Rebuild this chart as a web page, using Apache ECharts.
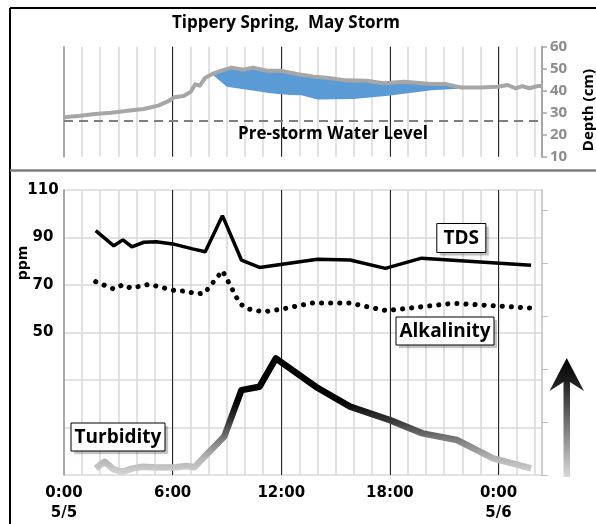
<!DOCTYPE html>
<html>
<head>
<meta charset="utf-8">
<script src="https://cdn.jsdelivr.net/npm/echarts@6/dist/echarts.min.js"></script>
<style>
  html, body { margin: 0; padding: 0; background: #fff; }
  #chart { width: 596px; height: 524px; }
</style>
</head>
<body>
<div id="chart"></div>
<script>
// Hours are counted from 0:00 on 5/5.

// Spring depth (cm), gauge record
const depthCm = [
  [0, 27.9], [0.9, 28.6], [1.7, 29.4], [2.6, 30.0], [3.5, 30.9], [4.4, 31.7],
  [5.2, 33.2], [5.7, 35.0], [6.1, 37.0], [6.6, 37.6], [7.0, 39.5], [7.25, 42.9],
  [7.5, 42.3], [7.8, 45.9], [8.2, 47.6], [8.65, 49.0], [9.25, 50.5], [9.9, 49.5],
  [10.45, 50.5], [11.2, 49.1], [11.95, 49.1], [12.85, 47.6], [13.8, 46.4],
  [14.5, 45.9], [15.6, 44.7], [16.7, 44.5], [17.65, 43.4], [18.8, 44.1],
  [20.25, 43.0], [21.1, 43.0], [21.9, 41.5], [23.0, 41.5], [23.95, 41.8],
  [24.5, 42.6], [24.95, 41.1], [25.3, 42.1], [25.7, 41.1], [26.15, 42.1], [26.4, 42.1]
];

// Lower edge of the shaded storm-water band (cm)
const bandLowerCm = [
  [8.17, 47.6], [8.6, 44.5], [9.0, 41.8], [9.55, 41.1], [10.5, 40.0], [11.4, 38.8],
  [12.5, 38.0], [13.1, 37.9], [14.0, 36.0], [16.0, 36.2], [17.9, 37.7],
  [20.3, 40.2], [23.1, 41.5]
];

// Water level before the storm (cm)
const preStormLevel = 26.2;

// Total dissolved solids (ppm)
const tdsPpm = [
  [1.75, 92.9], [2.75, 86.5], [3.25, 89.0], [3.75, 86.1], [4.4, 88.0], [5.1, 88.2],
  [6.0, 87.3], [7.1, 85.2], [7.8, 84.0], [8.75, 99.2], [9.8, 80.5], [10.8, 77.4],
  [14.0, 80.8], [15.8, 80.5], [17.75, 77.0], [19.75, 81.3], [25.8, 78.3]
];

// Alkalinity (ppm)
const alkalinityPpm = [
  [1.75, 71.4], [2.75, 68.3], [3.25, 70.1], [3.7, 68.7], [4.7, 70.3], [5.7, 68.4],
  [6.25, 67.4], [6.75, 67.5], [7.25, 66.3], [7.75, 66.5], [8.75, 76.0], [9.7, 62.3],
  [10.1, 60.0], [11.0, 58.7], [12.0, 59.8], [13.7, 62.4], [15.75, 62.4],
  [17.8, 59.2], [21.5, 62.3], [25.8, 60.3]
];

// Turbidity (relative units, right-hand scale)
const turbidity = [
  [1.75, 2.5], [2.25, 5.0], [2.75, 2.1], [3.25, 1.3], [3.8, 2.5], [4.35, 3.1],
  [5.1, 2.8], [6.2, 2.9], [6.75, 3.4], [7.2, 2.9], [7.85, 7.5], [8.85, 14.5],
  [9.8, 32.0], [10.8, 33.3], [11.7, 44.0], [13.9, 33.3], [15.8, 25.8], [18.0, 20.7],
  [19.8, 15.7], [21.7, 13.2], [23.7, 6.3], [25.8, 2.5]
];

// Axis ticks and labels
const timeTickHours = [0, 6, 12, 18, 24];
const timeTickLabels = ['0:00\n5/5', '6:00', '12:00', '18:00', '0:00\n5/6'];
const depthTicks = [10, 20, 30, 40, 50, 60];
const ppmGridValues = [-10, 10, 30, 50, 70, 90, 110];
const ppmLabelValues = [50, 70, 90, 110];
const turbidityTicks = [0, 20, 40, 60, 80, 100];

const hourMax = 26.4;

const chart = echarts.init(document.getElementById('chart'), null, { renderer: 'canvas' });

const minorX = (grid) => ({
  type: 'value', gridIndex: grid, position: 'bottom', min: 0, max: hourMax, interval: 1,
  axisLine: { show: false, onZero: false }, axisTick: { show: false }, axisLabel: { show: false },
  splitLine: { show: true, showMinLine: false, showMaxLine: false, lineStyle: { color: '#d9d9d9', width: 1.5 } }
});

const majorX = (grid, withLabels) => ({
  type: 'value', gridIndex: grid, position: 'bottom', min: 0, max: hourMax,
  axisLine: { show: false, onZero: false },
  axisTick: { show: false, customValues: timeTickHours.slice(1) },
  axisLabel: withLabels ? {
    show: true, customValues: timeTickHours, margin: 8,
    fontFamily: 'DejaVu Sans', fontWeight: 'bold', fontSize: 15, color: '#000', lineHeight: 20,
    formatter: (v) => timeTickLabels[timeTickHours.indexOf(v)]
  } : { show: false },
  splitLine: { show: true, lineStyle: { color: '#262626', width: 1 } }
});

const bandFill = {
  type: 'custom',
  xAxisIndex: 0, yAxisIndex: 1,
  data: [0],
  z: 1,
  silent: true,
  renderItem: function (params, api) {
    const lo = bandLowerCm[0][0];
    const hi = bandLowerCm[bandLowerCm.length - 1][0];
    const upper = depthCm.filter(p => p[0] >= lo && p[0] <= hi);
    const pts = upper.concat(bandLowerCm.slice().reverse()).map(p => api.coord(p));
    return { type: 'polygon', shape: { points: pts }, style: { fill: '#5b9bd5' } };
  }
};

// Boxed series label with a soft drop shadow
function labelBox(text, cx, cy, w, h) {
  return {
    type: 'group', x: cx, y: cy,
    children: [
      { type: 'rect', z: 50, z2: 0, shape: { x: -w / 2 + 3, y: -h / 2 + 3, width: w, height: h },
        style: { fill: 'rgba(0,0,0,0.2)', shadowBlur: 4, shadowColor: 'rgba(0,0,0,0.3)' } },
      { type: 'rect', z: 50, z2: 1, shape: { x: -w / 2, y: -h / 2, width: w, height: h },
        style: { fill: '#fff', stroke: '#000', lineWidth: 1 } },
      { type: 'text', z: 50, z2: 2, x: 0, y: 1,
        style: { text: text, fill: '#000', font: 'bold 19px "Open Sans"',
          align: 'center', verticalAlign: 'middle' } }
    ]
  };
}

const option = {
  animation: false,
  backgroundColor: '#fff',
  grid: [
    { left: 64, right: 54, top: 46.7, height: 110 },
    { left: 64, right: 54, top: 190, height: 285 }
  ],
  xAxis: [minorX(0), majorX(0, false), minorX(1), majorX(1, true)],
  yAxis: [
    { type: 'value', gridIndex: 0, position: 'left', min: 10, max: 60,
      axisLine: { show: true, onZero: false, lineStyle: { color: '#8c8c8c', width: 1.5 } },
      axisTick: { show: false }, axisLabel: { show: false }, splitLine: { show: false } },
    { type: 'value', gridIndex: 0, position: 'right', min: 10, max: 60,
      axisLine: { show: true, onZero: false, lineStyle: { color: '#a6a6a6', width: 2 } },
      axisTick: { show: true, length: 5, customValues: depthTicks, lineStyle: { color: '#a6a6a6', width: 1.5 } },
      axisLabel: { show: true, customValues: depthTicks, margin: 8, color: '#8c8c8c',
                   fontFamily: 'Open Sans', fontWeight: 'bold', fontSize: 15 },
      splitLine: { show: false } },
    { type: 'value', gridIndex: 1, position: 'left', min: -10, max: 110,
      axisLine: { show: true, onZero: false, lineStyle: { color: '#8c8c8c', width: 1.5 } },
      axisTick: { show: false, customValues: ppmGridValues },
      axisLabel: { show: true, customValues: ppmLabelValues, margin: 21, align: 'center',
                   fontFamily: 'DejaVu Sans', fontWeight: 'bold', fontSize: 15, color: '#000' },
      splitLine: { show: true, lineStyle: { color: '#d9d9d9', width: 1.5 } } },
    { type: 'value', gridIndex: 1, position: 'right', min: 0, max: 107.5,
      axisLine: { show: true, onZero: false, lineStyle: { color: '#bfbfbf', width: 1.5 } },
      axisTick: { show: true, length: 6, customValues: turbidityTicks, lineStyle: { color: '#bfbfbf', width: 1 } },
      axisLabel: { show: false }, splitLine: { show: false } }
  ],
  series: [
    bandFill,
    { name: 'Pre-storm Water Level', type: 'line', xAxisIndex: 0, yAxisIndex: 1,
      data: [[0, preStormLevel], [hourMax, preStormLevel]], symbol: 'none', z: 2,
      lineStyle: { color: '#7f7f7f', width: 2, type: [9, 6] } },
    { name: 'Depth', type: 'line', xAxisIndex: 0, yAxisIndex: 1, data: depthCm,
      symbol: 'none', z: 3, lineStyle: { color: '#a6a6a6', width: 4, join: 'round' } },
    { name: 'TDS', type: 'line', xAxisIndex: 2, yAxisIndex: 2, data: tdsPpm,
      symbol: 'none', z: 3, lineStyle: { color: '#000', width: 3.5 } },
    { name: 'Alkalinity', type: 'line', xAxisIndex: 2, yAxisIndex: 2, data: alkalinityPpm,
      symbol: 'none', z: 3, lineStyle: { color: '#000', width: 5, type: [0.1, 9], cap: 'round' } },
    { name: 'Turbidity', type: 'line', xAxisIndex: 2, yAxisIndex: 3, data: turbidity,
      symbol: 'none', z: 3,
      lineStyle: { width: 6.5, join: 'round',
        color: new echarts.graphic.LinearGradient(0, 1, 0, 0, [
          { offset: 0, color: '#d4d4d4' },
          { offset: 0.15, color: '#b0b0b0' },
          { offset: 0.3, color: '#7a7a7a' },
          { offset: 0.45, color: '#383838' },
          { offset: 0.62, color: '#000' },
          { offset: 1, color: '#000' }
        ]) } }
  ],
  graphic: [
    // panel frame
    { type: 'line', shape: { x1: 10, y1: 8, x2: 596, y2: 8 }, style: { stroke: '#000', lineWidth: 2 } },
    { type: 'line', shape: { x1: 10, y1: 8, x2: 10, y2: 524 }, style: { stroke: '#000', lineWidth: 2 } },
    { type: 'line', shape: { x1: 10, y1: 170.5, x2: 596, y2: 170.5 }, style: { stroke: '#7f7f7f', lineWidth: 2.5 } },
    // titles and axis names
    { type: 'text', x: 286, y: 23, style: { text: 'Tippery Spring,  May Storm', fill: '#000',
      font: 'bold 17px "Open Sans"', align: 'center', verticalAlign: 'middle' } },
    { type: 'text', x: 333, y: 134, z: 10, style: { text: 'Pre-storm Water Level', fill: '#000',
      font: 'bold 17px "Open Sans"', align: 'center', verticalAlign: 'middle' } },
    { type: 'text', x: 589, y: 110, rotation: Math.PI / 2, style: { text: 'Depth (cm)', fill: '#000',
      font: 'bold 15px "Open Sans"', align: 'center', verticalAlign: 'middle' } },
    { type: 'text', x: 23, y: 263, rotation: Math.PI / 2, style: { text: 'ppm', fill: '#000',
      font: 'bold 14px "DejaVu Sans"', align: 'center', verticalAlign: 'middle' } },
    // series labels
    labelBox('TDS', 461.3, 238, 49, 29),
    labelBox('Alkalinity', 445, 331, 98, 28),
    labelBox('Turbidity', 118, 437, 94, 28),
    // rising-turbidity arrow
    { type: 'rect', shape: { x: 563.5, y: 378, width: 6.5, height: 99 },
      style: { fill: new echarts.graphic.LinearGradient(0, 0, 0, 1, [
        { offset: 0, color: '#1a1a1a' }, { offset: 1, color: '#d9d9d9' }]) } },
    { type: 'polygon', shape: { points: [[566.7, 358], [584, 391], [566.7, 380], [549.5, 391]] },
      style: { fill: new echarts.graphic.LinearGradient(0, 0, 0, 1, [
        { offset: 0, color: '#000' }, { offset: 1, color: '#2a2a2a' }]) } }
  ]
};

chart.setOption(option);
</script>
</body>
</html>
